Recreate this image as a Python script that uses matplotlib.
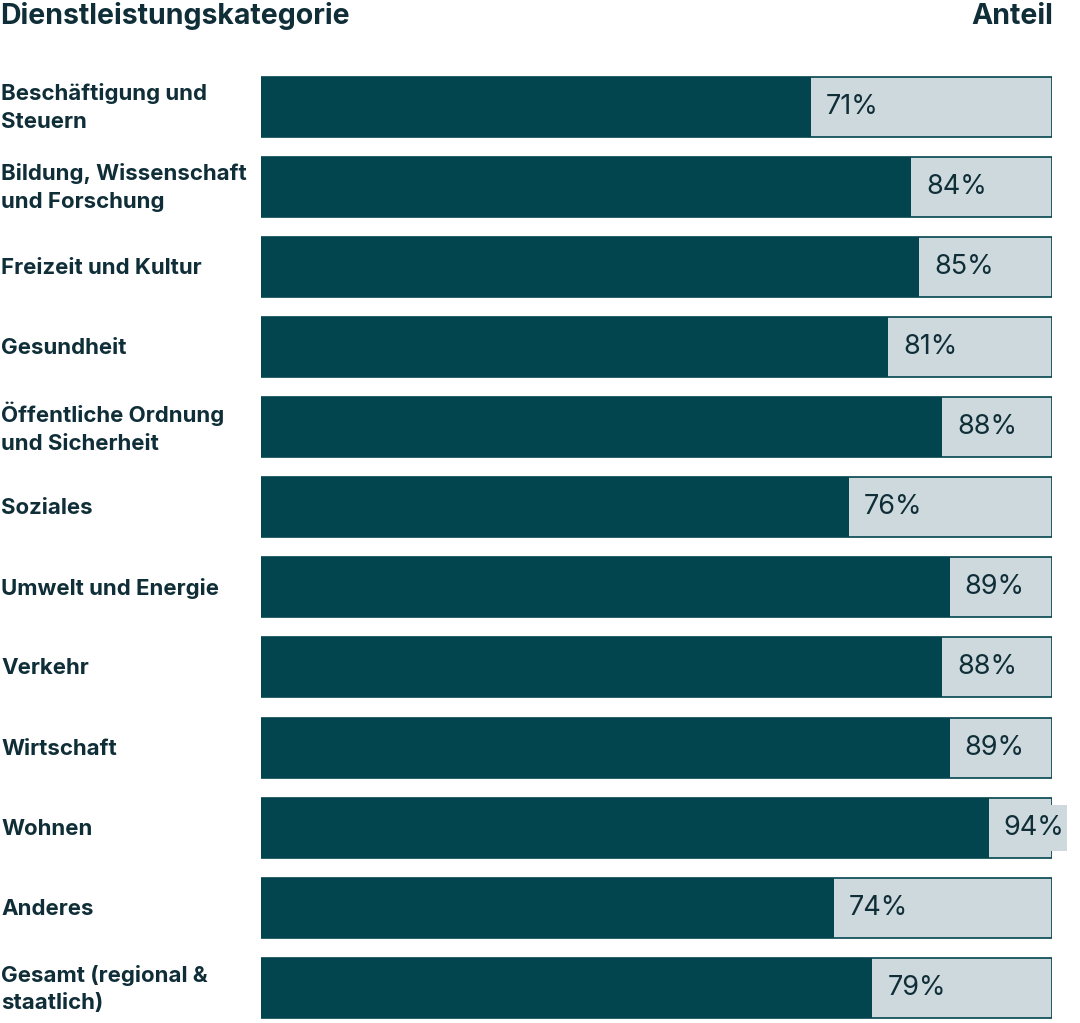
import matplotlib
matplotlib.use("Agg")
import matplotlib.pyplot as plt
from matplotlib.patches import Rectangle
import matplotlib.transforms as mtransforms

plt.rcParams['font.family'] = ['Inter', 'DejaVu Sans']

categories = [
    "Beschäftigung und\nSteuern",
    "Bildung, Wissenschaft\nund Forschung",
    "Freizeit und Kultur",
    "Gesundheit",
    "Öffentliche Ordnung\nund Sicherheit",
    "Soziales",
    "Umwelt und Energie",
    "Verkehr",
    "Wirtschaft",
    "Wohnen",
    "Anderes",
    "Gesamt (regional &\nstaatlich)",
]
values = [71, 84, 85, 81, 88, 76, 89, 88, 89, 94, 74, 79]
value_labels = [f"{v}%" for v in values]

header_left = "Dienstleistungskategorie"
header_right = "Anteil"

DARK = "#03454f"
LIGHT = "#cdd9dd"
TEXT = "#0f2e38"
TRACK_MAX = 102.2

W, H = 1080, 1023
fig = plt.figure(figsize=(W / 100, H / 100), dpi=100)
ax_left, ax_right = 261, 1052
ax = fig.add_axes([ax_left / W, 0, (ax_right - ax_left) / W, 1])
ax.set_xlim(0, TRACK_MAX)
pitch = 80.14
first_center = 106.5
ax.set_ylim((H - first_center) / pitch, -first_center / pitch)
ax.axis("off")

bar_h = 60 / pitch
n = len(categories)
for i in range(n):
    ax.add_patch(Rectangle((0, i - bar_h / 2), TRACK_MAX, bar_h, facecolor=LIGHT,
                           edgecolor=DARK, linewidth=1.2, zorder=1))
ax.barh(range(n), values, height=bar_h, color=DARK, zorder=2)

fig.canvas.draw()
renderer = fig.canvas.get_renderer()
offset = mtransforms.offset_copy(ax.transData, fig=fig, x=15, y=0, units='dots')
inv = ax.transData.inverted()
for i, (v, lab) in enumerate(zip(values, value_labels)):
    t = ax.text(v, i, lab, transform=offset, ha="left", va="center",
                fontsize=19.5, color=TEXT, zorder=4)
    bb = t.get_window_extent(renderer)
    x1 = inv.transform((bb.x1 + 3, 0))[0]
    bh = 46 / pitch
    ax.add_patch(Rectangle((v, i - bh / 2), x1 - v, bh, facecolor=LIGHT,
                           edgecolor="none", zorder=3, clip_on=False))

for i, c in enumerate(categories):
    y_px = first_center + pitch * i
    fig.text(1 / W, 1 - (y_px + 1) / H, c, ha="left", va="center", fontsize=16,
             fontweight="bold", color=TEXT, linespacing=1.48)

fig.text(0, 1 - 16 / H, header_left, ha="left", va="center", fontsize=20.5,
         fontweight="bold", color=TEXT)
fig.text(1053 / W, 1 - 16 / H, header_right, ha="right", va="center", fontsize=20.5,
         fontweight="bold", color=TEXT)

fig.savefig("out.png", dpi=100)
